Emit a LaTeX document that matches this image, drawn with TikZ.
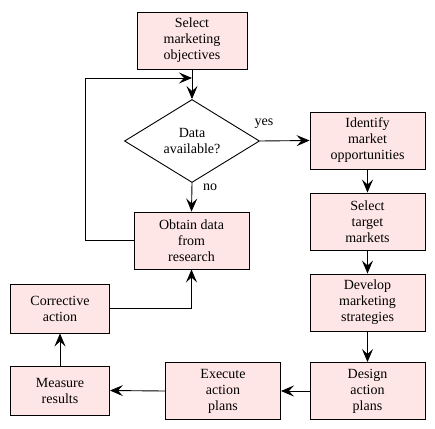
\documentclass[tikz,border=0pt]{standalone}
\usepackage{fontspec}
\setmainfont{Liberation Serif}
\usetikzlibrary{arrows.meta,shapes.geometric}
\definecolor{boxpink}{HTML}{FFE6E6}
\tikzset{
  box/.style={draw=black, fill=boxpink, line width=0.9pt, align=center, inner sep=0pt,
    font=\fontsize{14}{16}\selectfont},
  dia/.style={draw=black, fill=white, line width=0.9pt, diamond, inner sep=0pt, align=center,
    font=\fontsize{14}{16}\selectfont, minimum width=135pt, minimum height=83pt, aspect=1.63},
  conn/.style={line width=0.9pt, -{Stealth[length=13pt,width=11pt,inset=5pt]}},
  lbl/.style={font=\fontsize{14}{16}\selectfont, inner sep=0pt}
}
\begin{document}
\begin{tikzpicture}[x=1pt,y=-1pt]
\useasboundingbox (0,0) rectangle (435,428);
\node[box, minimum width=110pt, minimum height=57pt] (sel) at (192,40.5) {Select\\marketing\\objectives};
\node[dia] (data) at (192,141) {Data\\available?};
\node[box, minimum width=115pt, minimum height=57pt] (obt) at (191.5,240.5) {Obtain data\\from\\research};
\node[box, minimum width=115pt, minimum height=57pt] (ide) at (367.5,140.5) {Identify\\market\\opportunities};
\node[box, minimum width=115pt, minimum height=57pt] (tar) at (367.5,221.5) {Select\\target\\markets};
\node[box, minimum width=115pt, minimum height=57pt] (dev) at (367.5,302.5) {Develop\\marketing\\strategies};
\node[box, minimum width=115pt, minimum height=57pt] (des) at (367.5,391) {Design\\action\\plans};
\node[box, minimum width=115pt, minimum height=57pt] (exe) at (223,391) {Execute\\action\\plans};
\node[box, minimum width=99pt, minimum height=49pt] (mea) at (60,390.5) {Measure\\results};
\node[box, minimum width=99pt, minimum height=49pt] (cor) at (60,308.5) {Corrective\\action};
\coordinate (loopin) at (192,78);
\node[lbl] (yes) at (264,124) {yes};
\node[lbl] (no) at (210,187) {no};
\draw[conn] (sel.south) -- (data.north);
\draw[conn] (obt.west) -| (85,78) -- (loopin);
\draw[conn] (data.east) -- (ide.west);
\draw[conn] (data.south) -- (obt.north);
\draw[conn] (ide.south) -- (tar.north);
\draw[conn] (tar.south) -- (dev.north);
\draw[conn] (dev.south) -- (des.north);
\draw[conn] (des.west) -- (exe.east);
\draw[conn] (exe.west) -- (mea.east);
\draw[conn] (mea.north) -- (cor.south);
\draw[conn] (cor.east) -| (obt.south);
\end{tikzpicture}
\end{document}
